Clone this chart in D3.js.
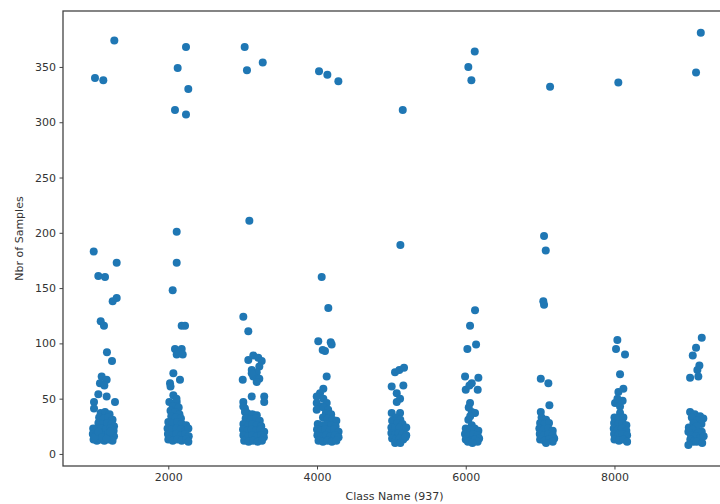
<!DOCTYPE html>
<html>
<head>
<meta charset="utf-8">
<script src="https://cdn.jsdelivr.net/npm/d3@7"></script>
<style>
  body { margin: 0; background: #fff; }
  .axis text { font-family: "DejaVu Sans", sans-serif; font-size: 11px; fill: #333; }
  .axis path, .axis line { stroke: #444; }
  .label { font-family: "DejaVu Sans", sans-serif; font-size: 11px; fill: #333; }
</style>
</head>
<body>
<div id="chart"></div>
<script>
const svgWidth = 720,
    svgHeight = 504,
    margin = { top: 11, right: -6, bottom: 38, left: 63 },
    width = svgWidth - margin.left - margin.right,
    height = svgHeight - margin.top - margin.bottom;

// ticks
const xTicks = [2000, 4000, 6000, 8000];
const yTicks = [0, 50, 100, 150, 200, 250, 300, 350];

// [class, nbr of samples] per group
const g1000 = [
    [1274, 374], [1014, 340], [1126, 338], [997, 183], [1306, 173], [1059, 161], [1149, 160], [1306, 141], [1252, 138],
    [1091, 120], [1135, 116], [1175, 92], [1243, 84],
    [1104, 70], [1171, 67], [1081, 64], [1140, 62], [1059, 54], [1171, 52], [1283, 47], [1001, 47], [1001, 41],
    [1090, 37], [1150, 38], [1210, 36], [1070, 33], [1130, 32], [1190, 33], [1250, 31],
    [1060, 28], [1120, 27], [1180, 28], [1240, 27], [1270, 25],
    [990, 23], [1040, 22], [1100, 23], [1160, 22], [1220, 23], [1265, 21],
    [985, 18], [1030, 17], [1080, 18], [1130, 17], [1190, 18], [1240, 17], [1270, 16],
    [995, 13], [1040, 12], [1090, 13], [1140, 12], [1200, 13], [1250, 12],
    [1010, 15], [1060, 20], [1110, 15], [1170, 14], [1220, 20]
];
const g2000 = [
    [2238, 368], [2126, 349], [2269, 330], [2090, 311], [2238, 307], [2113, 201], [2113, 173], [2059, 148],
    [2180, 116], [2225, 116], [2090, 95], [2180, 95], [2113, 90], [2194, 90], [2068, 73], [2157, 67], [2023, 64], [2030, 61],
    [2068, 53], [2014, 47], [2113, 47], [2110, 50], [2060, 43], [2140, 42], [2030, 39], [2090, 38], [2150, 36],
    [2040, 34], [2100, 33], [2170, 32],
    [2000, 29], [2060, 28], [2120, 29], [2180, 27], [2240, 26],
    [1990, 23], [2050, 22], [2110, 23], [2170, 22], [2230, 21], [2270, 23],
    [1995, 18], [2050, 17], [2110, 18], [2170, 17], [2230, 18], [2275, 16],
    [2000, 13], [2060, 12], [2120, 13], [2180, 12], [2240, 13], [2270, 11]
];
const g3000 = [
    [3027, 368], [3058, 347], [3270, 354], [3090, 211], [3009, 124], [3076, 111],
    [3076, 85], [3143, 89], [3210, 87], [3256, 84], [3224, 79], [3122, 76], [3189, 74], [3143, 70], [3224, 68],
    [3001, 67], [3122, 73], [3189, 65],
    [3122, 52], [3290, 52], [3290, 47], [3009, 47], [3031, 41], [3009, 43], [3031, 38],
    [3060, 37], [3130, 36], [3190, 35], [3040, 32], [3110, 31], [3180, 32], [3230, 30],
    [3010, 27], [3070, 26], [3130, 27], [3190, 26], [3250, 25],
    [3005, 22], [3060, 21], [3120, 22], [3180, 21], [3240, 22], [3290, 20],
    [3010, 17], [3070, 16], [3130, 17], [3190, 16], [3250, 17], [3285, 15],
    [3020, 12], [3080, 11], [3140, 12], [3200, 11], [3260, 12]
];
const g4000 = [
    [4027, 346], [4139, 343], [4287, 337], [4063, 160], [4152, 132], [4017, 102], [4184, 101], [4197, 99],
    [4076, 94], [4107, 93], [4130, 70], [4085, 59], [4040, 55], [4085, 50], [3996, 52], [3996, 46], [4063, 43],
    [3996, 40], [4130, 46],
    [4090, 42], [4150, 40], [4120, 37], [4190, 36], [4080, 33], [4140, 32], [4210, 31], [4260, 30],
    [4010, 27], [4070, 26], [4130, 27], [4190, 26], [4250, 25],
    [4000, 22], [4050, 21], [4110, 22], [4170, 21], [4230, 22], [4290, 20],
    [4005, 17], [4060, 16], [4120, 17], [4180, 16], [4240, 17], [4290, 15],
    [4020, 12], [4080, 11], [4140, 12], [4200, 11], [4260, 12]
];
const g5000 = [
    [5153, 311], [5121, 189], [5049, 74], [5107, 76], [5170, 78], [5004, 61], [5161, 62], [5072, 55], [5117, 50], [5072, 47],
    [5004, 37], [5117, 37], [5060, 33], [5120, 31], [5010, 30], [5080, 28], [5150, 27],
    [5000, 24], [5050, 23], [5110, 24], [5170, 22], [5200, 24],
    [5000, 19], [5050, 18], [5100, 19], [5150, 18], [5200, 17],
    [5010, 14], [5060, 13], [5110, 14], [5160, 13], [5190, 15], [5050, 10], [5120, 10]
];
const g6000 = [
    [6121, 364], [6035, 350], [6076, 338], [6125, 130], [6058, 116], [6022, 95], [6139, 99],
    [5991, 70], [6170, 69], [6081, 64], [6000, 58], [6161, 58], [6050, 62],
    [6058, 46], [6081, 38], [6125, 37], [6035, 31], [6081, 26], [6060, 34], [6040, 42],
    [6000, 23], [6060, 22], [6120, 23], [6170, 21],
    [5990, 18], [6040, 17], [6100, 18], [6160, 17], [6180, 14],
    [6000, 13], [6060, 12], [6120, 13], [6160, 11], [6030, 11], [6090, 10]
];
const g7000 = [
    [7134, 332], [7053, 197], [7076, 184], [7043, 138], [7053, 135], [7009, 68], [7111, 64], [7125, 44], [7009, 38],
    [7020, 33], [7080, 31], [7000, 28], [7060, 27], [7120, 28],
    [6990, 23], [7050, 22], [7110, 23], [7170, 21],
    [6995, 18], [7050, 17], [7110, 18], [7170, 17], [7190, 14],
    [7000, 13], [7060, 12], [7120, 13], [7170, 11], [7080, 10]
];
const g8000 = [
    [8052, 336], [8039, 103], [8021, 95], [8142, 90], [8075, 72],
    [8120, 59], [8053, 56], [8008, 46], [8075, 43], [8075, 37], [8110, 48], [8040, 50],
    [8000, 33], [8060, 32], [8120, 33],
    [7995, 28], [8050, 27], [8110, 28], [8160, 26],
    [7990, 23], [8040, 22], [8100, 23], [8160, 21],
    [7995, 18], [8050, 17], [8110, 18], [8170, 17],
    [8000, 13], [8060, 12], [8120, 13], [8170, 11]
];
const g9000 = [
    [9161, 381], [9097, 345], [9174, 105], [9097, 96], [9053, 89], [9142, 80], [9115, 76], [9128, 70], [9017, 69],
    [9017, 38], [9080, 36], [9151, 34], [9195, 32], [9040, 33], [9110, 30], [9061, 28], [9170, 27],
    [9107, 25], [9000, 24], [9050, 22], [9174, 20], [8994, 20], [9130, 19],
    [9030, 17], [9090, 16], [9151, 14], [9200, 16], [9020, 13], [9060, 11], [9107, 11], [8994, 8], [9180, 10]
];

const points = [g1000, g2000, g3000, g4000, g5000, g6000, g7000, g8000, g9000].flat();

let svg = d3.select("#chart").append("svg")
    .attr("width", svgWidth)
    .attr("height", svgHeight)
    .append("g")
    .attr("transform", `translate(${margin.left},${margin.top})`);

// scales
let xScale = d3.scaleLinear()
    .domain([584, 9500])
    .range([0, width]);
let yScale = d3.scaleLinear()
    .domain([-10.9, 400.6])
    .range([height, 0]);

// plot points
svg.selectAll("circle")
    .data(points)
    .join("circle")
    .attr("cx", (d) => xScale(d[0]))
    .attr("cy", (d) => yScale(d[1]))
    .attr("r", 4)
    .attr("fill", "#1f77b4");

// axes
let xAxis = svg.append("g")
    .attr("class", "axis")
    .attr("transform", `translate(0, ${height})`)
    .call(d3.axisBottom(xScale).tickValues(xTicks).tickFormat(d3.format("d"))
        .tickSize(3.5).tickPadding(3.5).tickSizeOuter(0));
let yAxis = svg.append("g")
    .attr("class", "axis")
    .call(d3.axisLeft(yScale).tickValues(yTicks).tickFormat(d3.format("d"))
        .tickSize(3.5).tickPadding(3.5).tickSizeOuter(0));
svg.selectAll(".axis path").remove();

// frame
svg.append("rect")
    .attr("width", width)
    .attr("height", height)
    .attr("fill", "none")
    .attr("stroke", "#444")
    .attr("stroke-width", 1.3);

// labels
svg.append("text")
    .attr("class", "label")
    .attr("text-anchor", "middle")
    .attr("x", width / 2)
    .attr("y", height + 34)
    .text("Class Name (937)");
svg.append("text")
    .attr("class", "label")
    .attr("text-anchor", "middle")
    .attr("transform", `translate(-40, ${height / 2}) rotate(-90)`)
    .text("Nbr of Samples");
</script>
</body>
</html>
